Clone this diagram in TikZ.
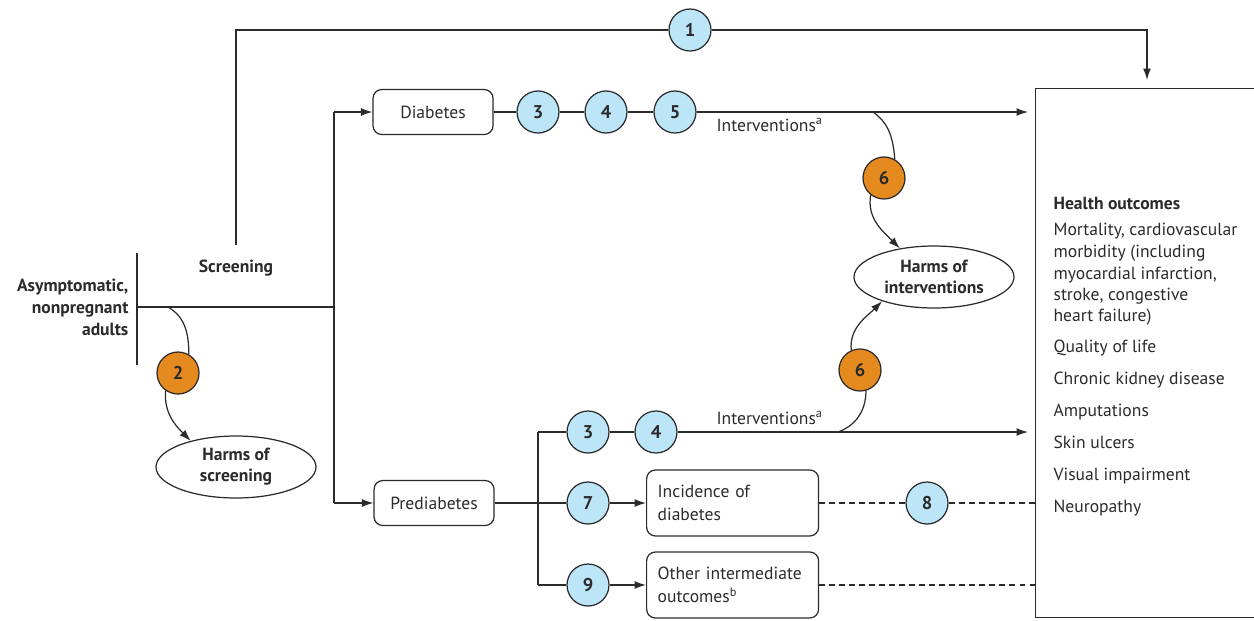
\documentclass[tikz,border=0pt]{standalone}
\usepackage{fontspec}
\setmainfont{PT Sans}
\usetikzlibrary{arrows.meta,shapes.geometric,positioning}
\definecolor{kqblue}{HTML}{BDE5F8}
\definecolor{kqorange}{HTML}{E58A1F}
\definecolor{linegray}{HTML}{2B2B2B}
\tikzset{
  kq/.style={circle, draw=linegray, fill=kqblue, minimum size=0.84cm, inner sep=0pt, font=\bfseries\fontsize{10.5}{13}\selectfont},
  kqharm/.style={kq, fill=kqorange},
  outcome/.style={draw=linegray, rounded corners=5pt, minimum width=2.4cm, minimum height=0.9cm},
  interm/.style={outcome, minimum width=3.44cm, minimum height=1.32cm, text width=3.0cm, align=left},
  harm/.style={ellipse, draw=linegray, minimum width=3.2cm, minimum height=1.24cm, inner sep=0pt, align=center, font=\bfseries},
  flow/.style={-{Latex[length=6.5pt,width=4.5pt]}},
  plain/.style={inner sep=0pt},
}

\begin{document}
\begin{tikzpicture}[x=0.02cm, y=-0.02cm, line width=0.7pt, color=linegray, font=\fontsize{10}{13}\selectfont]
\useasboundingbox (0,0) rectangle (1254,620);

% boxes and key questions
\node[outcome] (dia) at (433,112) {Diabetes};
\node[outcome] (pre) at (434,503) {Prediabetes};
\node[kq] (q1) at (690,30) {1};
\node[kqharm] (q2) at (178,373) {2};
\node[kq] (q3a) at (538,112) {3};
\node[kq] (q4a) at (606,112) {4};
\node[kq] (q5) at (675,112) {5};
\node[kq] (q3b) at (588,432) {3};
\node[kq] (q4b) at (656,432) {4};
\node[kqharm] (q6a) at (884,178) {6};
\node[kqharm] (q6b) at (860,370) {6};
\node[kq] (q7) at (588,503) {7};
\node[kq] (q8) at (927,503) {8};
\node[kq] (q9) at (588,585) {9};
\node[interm, anchor=west] (inc) at (646,503) {Incidence of\\diabetes};
\node[interm, anchor=west] (oth) at (646,585) {Other intermediate\\outcomes\textsuperscript{b}};
\node[harm] (hs) at (236,467) {Harms of\\screening};
\node[harm] (hi) at (934,277) {Harms of\\interventions};
\node[draw, anchor=north west, minimum width=4.6cm, minimum height=10.58cm, inner sep=0pt] (ho) at (1035,88) {};

% texts
\node[plain, align=right, anchor=east, font=\bfseries\fontsize{10}{12.5}\selectfont] (pop) at (129,307) {Asymptomatic,\\nonpregnant\\adults};
\node[font=\bfseries] (scr) at (236,268) {Screening};
\node[plain, anchor=base west] (intA) at (716,131) {Interventions\textsuperscript{a}};
\node[plain, anchor=base west] (intB) at (716,424) {Interventions\textsuperscript{a}};
\node[plain, anchor=base west, font=\bfseries] (hohead) at (1053,209) {Health outcomes};
\foreach \yy/\txt in {235/{Mortality, cardiovascular}, 257/{morbidity (including}, 279/{myocardial infarction,}, 300/{stroke, congestive}, 321/{heart failure)}, 352/{Quality of life}, 384/{Chronic kidney disease}, 416/Amputations, 448/{Skin ulcers}, 480/{Visual impairment}, 512/Neuropathy}
  \node[plain, anchor=base west] (hoitem\yy) at (1053,\yy) {\txt};

% screening fork
\coordinate (barT) at (137,253);
\coordinate (barB) at (137,365);
\coordinate (root) at (137,307);
\coordinate (fork) at (334,307);
\coordinate (top0) at (236,245);
\coordinate (topend) at (1147,80);
\draw (barT) -- (barB);
\draw (root) -- (fork);
\draw (dia.west -| fork) -- (pre.west -| fork);
\draw[flow] (dia.west -| fork) -- (dia);
\draw[flow] (pre.west -| fork) -- (pre);
\draw (top0) |- (q1);
\draw[flow] (q1) -| (topend);

% diabetes row
\coordinate (endA) at ([xshift=-0.14cm]ho.west |- dia);
\draw (dia) -- (q3a) -- (q4a) -- (q5);
\draw[flow] (q5) -- (endA);

% prediabetes rows
\coordinate (fork2) at (538,503);
\coordinate (endB) at ([xshift=-0.14cm]ho.west |- q4b);
\draw (pre) -- (q7);
\draw (fork2 |- q3b) -- (fork2 |- q9);
\draw (fork2 |- q3b) -- (q3b) -- (q4b);
\draw[flow] (q4b) -- (endB);
\draw[flow] (q7) -- (inc);
\draw (fork2 |- q9) -- (q9);
\draw[flow] (q9) -- (oth);
\draw[dash pattern=on 3.4pt off 2.3pt] (inc) -- (q8) -- (q8 -| ho.west);
\draw[dash pattern=on 3.4pt off 2.3pt] (oth) -- (oth -| ho.west);

% harms
\coordinate (s2) at (168,307);
\coordinate (sA) at (873,112);
\coordinate (sB) at (838,432);
\draw (s2) to[out=-30, in=90] (q2.60);
\draw[flow] (q2.235) to[out=-95, in=135] (hs.150);
\draw (sA) to[out=-35, in=95] (q6a.60);
\draw[flow] (q6a.232) to[out=-100, in=135] (hi.140);
\draw (sB) to[out=20, in=-90] (q6b.286);
\draw[flow] (q6b.114) to[out=95, in=-135] (hi.205);

\end{tikzpicture}
\end{document}
